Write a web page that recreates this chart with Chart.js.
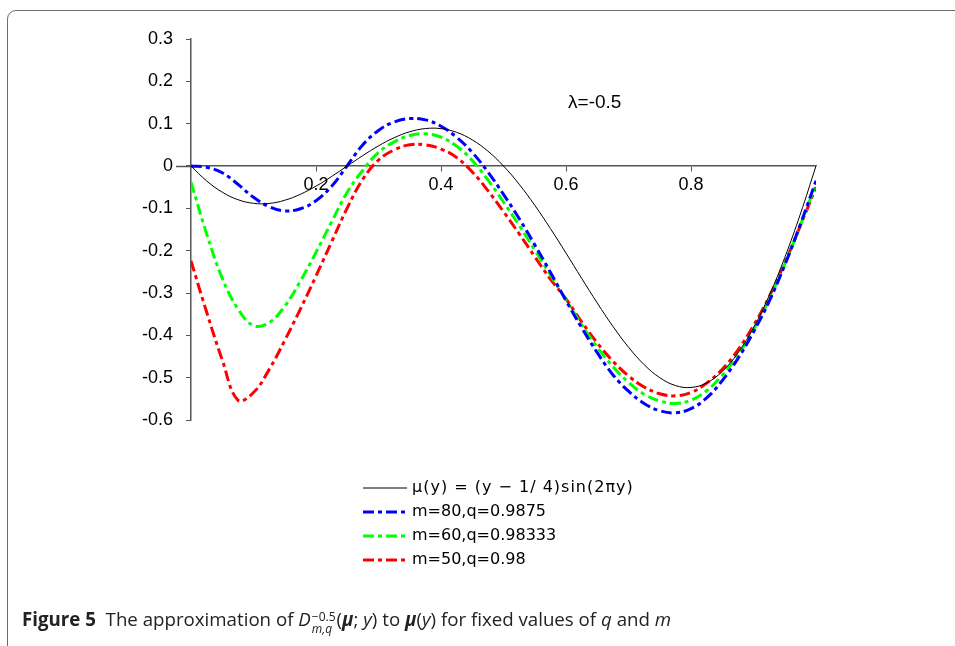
<!DOCTYPE html>
<html><head><meta charset="utf-8">
<script src="https://cdn.jsdelivr.net/npm/chart.js@4.4.1/dist/chart.umd.min.js"></script>
<style>
html,body{margin:0;padding:0;background:#fff;width:955px;height:646px;overflow:hidden;}
#frame{position:absolute;left:7px;top:10px;width:1000px;height:700px;border:1.3px solid #6d6d6d;border-radius:9px;box-sizing:border-box;}
#c{position:absolute;left:0;top:0;}
#cap{position:absolute;left:22px;top:606px;font-family:'Open Sans';font-size:18.7px;color:#222;white-space:nowrap;}
.ss{display:inline-block;vertical-align:-7px;line-height:12px;font-size:12px;margin:0 1px;}
.ss span{display:block}
</style></head><body>
<div id="frame"></div>
<canvas id="c" width="955" height="646"></canvas>
<div id="cap"><b>Figure 5</b>&nbsp; The approximation of <i>D</i><span class="ss"><span>−0.5</span><span><i>m,q</i></span></span>(<b><i>μ</i></b>; <i>y</i>) to <b><i>μ</i></b>(<i>y</i>) for fixed values of <i>q</i> and <i>m</i></div>
<script>
const xValues = [0,0.025,0.05,0.075,0.1,0.125,0.15,0.175,0.2,0.225,0.25,0.275,0.3,0.325,0.35,0.375,0.4,0.425,0.45,0.475,0.5,0.525,0.55,0.575,0.6,0.625,0.65,0.675,0.7,0.725,0.75,0.775,0.8,0.825,0.85,0.875,0.9,0.925,0.95,0.975,1];
const muValues = [0,-0.0352,-0.0618,-0.0795,-0.0882,-0.0884,-0.0809,-0.0668,-0.0476,-0.0247,0,0.0247,0.0476,0.0668,0.0809,0.0884,0.0882,0.0795,0.0618,0.0352,0,-0.0430,-0.0927,-0.1476,-0.2057,-0.2652,-0.3236,-0.3787,-0.4280,-0.4692,-0.5,-0.5185,-0.5231,-0.5123,-0.4854,-0.4419,-0.3821,-0.3065,-0.2163,-0.1134,0];
const m80Values = [0,-0.003,-0.016,-0.043,-0.074,-0.096,-0.106,-0.101,-0.082,-0.048,0.001,0.050,0.084,0.104,0.112,0.109,0.094,0.068,0.032,-0.014,-0.067,-0.124,-0.186,-0.251,-0.318,-0.382,-0.441,-0.493,-0.532,-0.561,-0.578,-0.583,-0.573,-0.548,-0.507,-0.455,-0.392,-0.320,-0.234,-0.138,-0.035];
const m60Values = [-0.038,-0.160,-0.265,-0.337,-0.377,-0.370,-0.331,-0.272,-0.204,-0.132,-0.062,-0.010,0.032,0.057,0.072,0.076,0.068,0.047,0.013,-0.033,-0.085,-0.140,-0.198,-0.257,-0.316,-0.375,-0.428,-0.474,-0.511,-0.539,-0.555,-0.561,-0.553,-0.531,-0.494,-0.447,-0.386,-0.315,-0.232,-0.140,-0.042];
const m50Values = [-0.224,-0.345,-0.458,-0.553,-0.535,-0.481,-0.412,-0.338,-0.260,-0.179,-0.099,-0.031,0.014,0.038,0.050,0.050,0.040,0.020,-0.014,-0.058,-0.108,-0.160,-0.214,-0.267,-0.314,-0.368,-0.418,-0.461,-0.496,-0.522,-0.538,-0.543,-0.535,-0.513,-0.480,-0.435,-0.377,-0.309,-0.229,-0.141,-0.050];
const seriesLabels = ['μ(y) = (y − 1/ 4)sin(2πy)','m=80,q=0.9875','m=60,q=0.98333','m=50,q=0.98'];
const seriesColors = ['#000000','#0000ff','#00ff00','#ff0000'];
const xTickValues = [0.2,0.4,0.6,0.8];
const xTickLabels = ['0.2','0.4','0.6','0.8'];
const yTickValues = [0.3,0.2,0.1,0,-0.1,-0.2,-0.3,-0.4,-0.5,-0.6];
const yTickLabels = ['0.3','0.2','0.1','0','-0.1','-0.2','-0.3','-0.4','-0.5','-0.6'];
const annotationText = 'λ=-0.5';
const annotationX = 0.646, annotationY = 0.149;

const toPts = arr => xValues.map((x,i)=>({x:x, y:arr[i]}));
const dashDot = [11,4,4,4];
const seriesData = [muValues, m80Values, m60Values, m50Values];
const datasets = seriesData.map((arr,i)=>({
  label: seriesLabels[i],
  data: toPts(arr),
  borderColor: seriesColors[i],
  backgroundColor: seriesColors[i],
  borderWidth: i===0 ? 1 : 3,
  borderDash: i===0 ? [] : dashDot,
  pointRadius: 0,
  fill: false,
  tension: 0.4
}));

const extrasPlugin = {
  id: 'extras',
  afterDraw(chart){
    const ctx = chart.ctx;
    const xs = chart.scales.x, ys = chart.scales.y;
    ctx.save();
    const y0 = Math.round(ys.getPixelForValue(0)) + 0.5;
    ctx.strokeStyle = '#555'; ctx.lineWidth = 1.5;
    ctx.beginPath(); ctx.moveTo(chart.chartArea.left - 15, y0); ctx.lineTo(chart.chartArea.left, y0); ctx.stroke();
    ctx.fillStyle = '#000';
    ctx.font = '19px "Liberation Sans"';
    ctx.textAlign = 'center'; ctx.textBaseline = 'middle';
    ctx.fillText(annotationText, xs.getPixelForValue(annotationX), ys.getPixelForValue(annotationY));
    const lx0 = 363, lx1 = 407, tx = 412, ly0 = 488, lstep = 24;
    ctx.textAlign = 'left';
    ctx.font = '16px "DejaVu Sans"';
    chart.data.datasets.forEach((ds,i)=>{
      const yy = ly0 + i*lstep;
      ctx.strokeStyle = ds.borderColor; ctx.lineWidth = ds.borderWidth;
      ctx.setLineDash(ds.borderDash || []);
      ctx.beginPath(); ctx.moveTo(lx0, yy); ctx.lineTo(lx1, yy); ctx.stroke();
      ctx.setLineDash([]);
      ctx.fillStyle = '#000';
      ctx.letterSpacing = i===0 ? '1px' : '0px';
      ctx.fillText(ds.label, tx, yy);
    });
    ctx.letterSpacing = '0px';
    ctx.restore();
  }
};

new Chart(document.getElementById('c'), {
  type: 'line',
  data: { datasets: datasets },
  plugins: [extrasPlugin],
  options: {
    responsive: false,
    animation: false,
    devicePixelRatio: 1,
    layout: { padding: { left: 0, top: 39, right: 139, bottom: 226 } },
    plugins: { legend: { display: false }, tooltip: { enabled: false } },
    scales: {
      x: {
        type: 'linear', min: 0, max: 1, position: { y: 0 },
        afterBuildTicks: s => { s.ticks = xTickValues.map(v => ({ value: v })); },
        ticks: { callback: (v,i) => xTickLabels[i], color: '#000', font: { family: 'Liberation Sans', size: 18 }, padding: 3, maxRotation: 0, autoSkip: false },
        grid: { drawOnChartArea: false, drawTicks: true, tickLength: 5, color: '#555' },
        border: { display: true, color: '#555', width: 1.5 }
      },
      y: {
        type: 'linear', min: -0.6, max: 0.3,
        afterBuildTicks: s => { s.ticks = yTickValues.map(v => ({ value: v })); },
        afterFit: s => { s.width = 191; },
        ticks: { callback: (v,i) => yTickLabels[i], color: '#000', font: { family: 'Liberation Sans', size: 18 }, padding: 13, autoSkip: false },
        grid: { drawOnChartArea: false, drawTicks: true, tickLength: 5, color: '#555' },
        border: { display: true, color: '#555', width: 1.5 }
      }
    }
  }
});
</script>
</body></html>
